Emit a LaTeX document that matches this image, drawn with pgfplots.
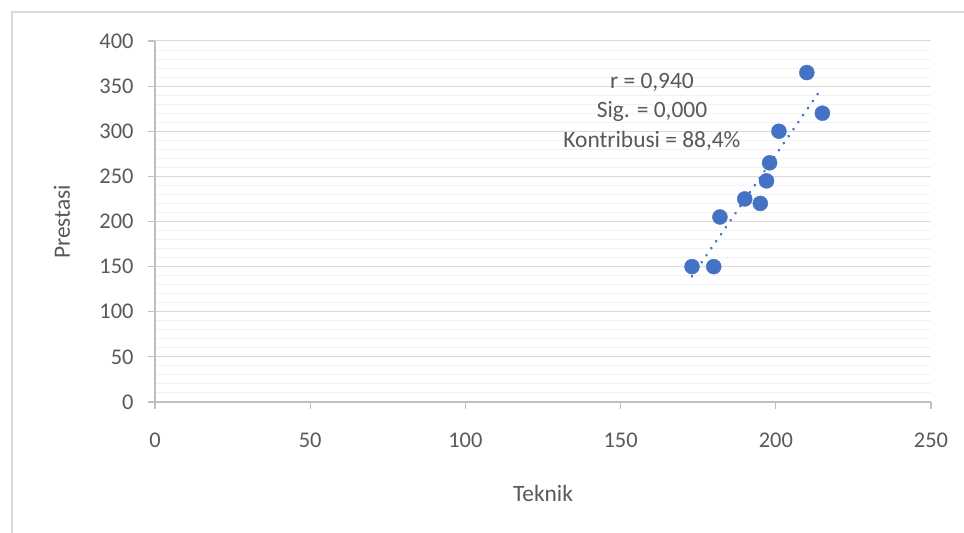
\documentclass[border=0pt]{standalone}
\usepackage{fontspec}
\setmainfont{Carlito}
\usepackage{pgfplots}
\pgfplotsset{compat=1.18}
\definecolor{ptblue}{HTML}{4472C4}
\definecolor{txtgray}{HTML}{595959}
\definecolor{majgrid}{HTML}{D9D9D9}
\definecolor{mingrid}{HTML}{F2F2F2}
\definecolor{axgray}{HTML}{BFBFBF}
\begin{document}
\begin{tikzpicture}[x=1bp,y=1bp]
\clip (0,0) rectangle (964,533);
\fill[white] (0,0) rectangle (964,533);
\draw[majgrid, line width=1.2bp] (12,-10) rectangle (990,521);
\begin{axis}[
 scale only axis, width=776bp, height=361bp,
 at={(155bp,131bp)}, anchor=south west,
 xmin=0,xmax=250,ymin=0,ymax=400,
 xtick={0,50,...,250}, ytick={0,50,...,400},
 minor y tick num=4,
 ymajorgrids, yminorgrids,
 major grid style={majgrid, line width=1bp},
 minor grid style={mingrid, line width=1bp},
 axis x line*=bottom, axis y line*=left,
 axis line style={axgray, line width=1.2bp, -},
 tick align=outside, major tick length=7bp, minor tick length=0pt,
 major tick style={axgray, line width=1.2bp},
 tick label style={font=\fontsize{22.5}{22.5}\selectfont, text=txtgray},
 yticklabel style={xshift=-11bp},
 xticklabel style={yshift=-20bp},
 /pgf/number format/assume math mode=true,
 clip=false,
]
\addplot[ptblue, line width=3bp, dash pattern=on 0.01bp off 8.5bp, line cap=round]
 coordinates {(173,139.3) (215,348.7)};
\addplot[only marks, mark=*, mark size=7.5bp, mark options={fill=ptblue, draw=ptblue}]
 coordinates {(173,150) (180,150) (182,205) (190,225) (195,220) (197,245) (198,265) (201,300) (210,365) (215,320)};
\node[text=txtgray, font=\fontsize{23.5}{23.5}\selectfont] at (axis cs:160.1,354.6) {r = 0,940};
\node[text=txtgray, font=\fontsize{23.5}{23.5}\selectfont] at (axis cs:160.1,322.4) {Sig. = 0,000};
\node[text=txtgray, font=\fontsize{23.5}{23.5}\selectfont] at (axis cs:160.1,289.2) {Kontribusi = 88,4\%};
\end{axis}
\node[text=txtgray, font=\fontsize{23.5}{23.5}\selectfont] at (543,40) {Teknik};
\node[text=txtgray, font=\fontsize{23.5}{23.5}\selectfont, rotate=90] at (62,311) {Prestasi};
\end{tikzpicture}
\end{document}
